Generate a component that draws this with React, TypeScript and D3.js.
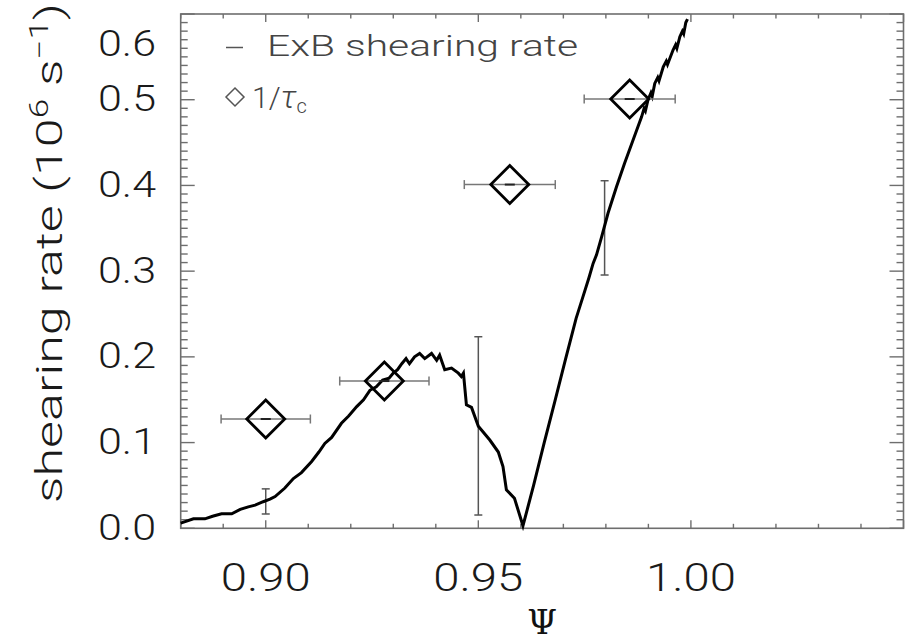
import React from "react";
import * as d3 from "d3";

// ExB shearing rate curve (Psi, 10^6 s^-1)
const curvePsi = [
  0.8800, 0.8830, 0.8857, 0.8875, 0.8896, 0.8920, 0.8940, 0.8959, 0.8975, 0.8994,
  0.9010, 0.9022, 0.9045, 0.9065, 0.9084, 0.9108, 0.9125, 0.9139, 0.9155, 0.9178,
  0.9195, 0.9214, 0.9230, 0.9245, 0.9260, 0.9275, 0.9290, 0.9300, 0.9310, 0.9320,
  0.9330, 0.9338, 0.9350, 0.9362, 0.9374, 0.9390, 0.9402, 0.9409, 0.9421, 0.9437,
  0.9453, 0.9460, 0.9465, 0.9472, 0.9484, 0.9500, 0.9527, 0.9547, 0.9558, 0.9566,
  0.9585, 0.9605, 0.9630, 0.9655, 0.9680, 0.9705, 0.9730, 0.9746, 0.9760, 0.9770,
  0.9778, 0.9790, 0.9805, 0.9825, 0.9844, 0.9864, 0.9884, 0.9890, 0.9893, 0.9899,
  0.9906, 0.9909, 0.9915, 0.9922, 0.9925, 0.9935, 0.9942, 0.9945, 0.9958, 0.9964,
  0.9967, 0.9974, 0.9980, 0.9983, 0.9988, 0.9992,
];
const curveRate = [
  0.006, 0.011, 0.011, 0.014, 0.017, 0.017, 0.022, 0.025, 0.027, 0.031,
  0.034, 0.037, 0.047, 0.058, 0.065, 0.078, 0.089, 0.099, 0.106, 0.1225,
  0.131, 0.142, 0.150, 0.161, 0.165, 0.173, 0.175, 0.181, 0.185, 0.192,
  0.198, 0.192, 0.200, 0.204, 0.198, 0.204, 0.196, 0.202, 0.185, 0.187,
  0.181, 0.177, 0.181, 0.144, 0.141, 0.119, 0.103, 0.089, 0.072, 0.045,
  0.035, 0.003, 0.050, 0.100, 0.148, 0.197, 0.245, 0.270, 0.292, 0.309,
  0.319, 0.340, 0.3675, 0.3985, 0.426, 0.453, 0.480, 0.490, 0.487, 0.4997,
  0.508, 0.504, 0.519, 0.526, 0.522, 0.5385, 0.545, 0.541, 0.558, 0.564,
  0.560, 0.5735, 0.580, 0.577, 0.590, 0.594,
];

// Error bars on the ExB curve
const curveErrPsi = [0.900, 0.950, 0.9797];
const curveErrLow = [0.0167, 0.0155, 0.2955];
const curveErrHigh = [0.046, 0.2235, 0.4055];

// 1/tau_c points (diamonds) with horizontal error
const tauPsi = [0.9000, 0.9279, 0.9574, 0.9856];
const tauRate = [0.1275, 0.1718, 0.401, 0.5008];
const tauPsiErr = [0.0105, 0.0105, 0.0107, 0.0107];

const xMajorTicks = [0.9, 0.95, 1.0];
const xTickLabels = ["0.90", "0.95", "1.00"];
const yMajorTicks = [0, 0.1, 0.2, 0.3, 0.4, 0.5, 0.6];
const yTickLabels = ["0.0", "0.1", "0.2", "0.3", "0.4", "0.5", "0.6"];

const W = 905;
const H = 644;
const L = 180.7, R = 903.5, T = 14, B = 528.3;
const FONT = "Roboto, 'Open Sans', 'Liberation Sans', sans-serif";
const FW = 300;
const AXIS = "#6e6e6e";

export default function App() {
  const x = d3.scaleLinear().domain([0.88, 1.05]).range([L, R]);
  const y = d3.scaleLinear().domain([0, 0.6]).range([B, T]);

  const pts: [number, number][] = curvePsi.map((p, i) => [p, curveRate[i]]);
  const line = d3
    .line<[number, number]>()
    .x((d) => x(d[0]))
    .y((d) => y(d[1]));

  const xMinor = d3.range(0.88, 1.0501, 0.01).map((v) => +v.toFixed(3));
  const yMinor = d3.range(0, 0.6001, 0.01).map((v) => +v.toFixed(3));
  const isMajorX = (v: number) => xMajorTicks.some((m) => Math.abs(m - v) < 1e-6) || Math.abs(v - 1.05) < 1e-6;
  const isMajorY = (v: number) => yMajorTicks.some((m) => Math.abs(m - v) < 1e-6);

  const diamond = (cx: number, cy: number, r: number) =>
    `M${cx},${cy - r}L${cx + r},${cy}L${cx},${cy + r}L${cx - r},${cy}Z`;

  return (
    <svg
      width={W}
      height={H}
      style={{ position: "absolute", left: 0, top: 0, background: "#fff" }}
    >
      <rect x={0} y={0} width={W} height={H} fill="#fff" />

      {/* frame */}
      <rect x={L} y={T} width={R - L} height={B - T} fill="none" stroke={AXIS} strokeWidth={1.6} />

      {/* x ticks (bottom & top) */}
      {xMinor.map((v, i) => {
        const len = isMajorX(v) ? 8 : 4.5;
        const px = x(v);
        return (
          <g key={"xt" + i}>
            <line x1={px} x2={px} y1={B} y2={B - len} stroke={AXIS} strokeWidth={1.4} />
            <line x1={px} x2={px} y1={T} y2={T + len} stroke={AXIS} strokeWidth={1.4} />
          </g>
        );
      })}
      {/* y ticks (left & right) */}
      {yMinor.map((v, i) => {
        const len = isMajorY(v) ? 14 : 7;
        const py = y(v);
        return (
          <g key={"yt" + i}>
            <line x1={L} x2={L + len} y1={py} y2={py} stroke={AXIS} strokeWidth={1.4} />
            <line x1={R} x2={R - len} y1={py} y2={py} stroke={AXIS} strokeWidth={1.4} />
          </g>
        );
      })}

      {/* y tick labels */}
      {yMajorTicks.map((v, i) => {
        const c = Math.max(y(v) - 2, 42);
        return (
          <text
            key={"yl" + i}
            x={156}
            y={c + 13.5}
            textAnchor="end"
            fontFamily={FONT}
            fontWeight={FW}
            fontSize={37}
            fill="#1a1a1a"
            textLength={58}
            lengthAdjust="spacingAndGlyphs"
          >
            {yTickLabels[i]}
          </text>
        );
      })}

      {/* x tick labels */}
      {xMajorTicks.map((v, i) => (
        <text
          key={"xl" + i}
          x={x(v) - 45}
          y={591}
          fontFamily={FONT}
          fontWeight={FW}
          fontSize={38}
          fill="#1a1a1a"
          textLength={90}
          lengthAdjust="spacingAndGlyphs"
        >
          {xTickLabels[i]}
        </text>
      ))}

      {/* axis titles */}
      <text
        x={(L + R) / 2}
        y={634}
        textAnchor="middle"
        fontFamily="'DejaVu Serif', 'Liberation Serif', serif"
        fontSize={34}
        fill="#111"
      >
        Ψ
      </text>
      <text
        transform={`translate(62,253) rotate(-90)`}
        textAnchor="middle"
        fontFamily={FONT}
        fontWeight={FW}
        fontSize={37}
        fill="#1a1a1a"
        textLength={500}
        lengthAdjust="spacingAndGlyphs"
      >
        shearing rate (10
        <tspan dy={-14} fontSize={25}>6</tspan>
        <tspan dy={14}> s</tspan>
        <tspan dy={-14} fontSize={25}>−1</tspan>
        <tspan dy={14}>)</tspan>
      </text>

      {/* legend */}
      <line x1={226} x2={243} y1={47.5} y2={47.5} stroke="#555" strokeWidth={1.5} />
      <text x={267} y={56} fontFamily={FONT} fontWeight={FW} fontSize={30} fill="#444" textLength={311} lengthAdjust="spacingAndGlyphs">
        ExB shearing rate
      </text>
      <path d={diamond(235, 97, 9)} fill="none" stroke="#555" strokeWidth={1.5} />
      <text x={252} y={108} fontFamily={FONT} fontWeight={FW} fontSize={30} fill="#444">
        1/<tspan fontStyle="italic" fontSize={32}>τ</tspan>
        <tspan dy={5} fontSize={20}>c</tspan>
      </text>

      {/* curve error bars */}
      {curveErrPsi.map((p, i) => {
        const px = x(p);
        const y1 = y(curveErrLow[i]);
        const y2 = y(curveErrHigh[i]);
        return (
          <g key={"ce" + i} stroke="#555" strokeWidth={1.5}>
            <line x1={px} x2={px} y1={y1} y2={y2} />
            <line x1={px - 4} x2={px + 4} y1={y1} y2={y1} />
            <line x1={px - 4} x2={px + 4} y1={y2} y2={y2} />
          </g>
        );
      })}

      {/* ExB curve */}
      <path d={line(pts) || ""} fill="none" stroke="#000" strokeWidth={3} strokeLinejoin="miter" />

      {/* tau points */}
      {tauPsi.map((p, i) => {
        const cx = x(p);
        const cy = y(tauRate[i]);
        const x1 = x(p - tauPsiErr[i]);
        const x2 = x(p + tauPsiErr[i]);
        return (
          <g key={"tp" + i}>
            <g stroke="#777" strokeWidth={1.5}>
              <line x1={x1} x2={x2} y1={cy} y2={cy} />
              <line x1={x1} x2={x1} y1={cy - 4.5} y2={cy + 4.5} />
              <line x1={x2} x2={x2} y1={cy - 4.5} y2={cy + 4.5} />
            </g>
            <line x1={cx - 5} x2={cx + 5} y1={cy} y2={cy} stroke="#222" strokeWidth={2} />
            <path d={diamond(cx, cy, 19)} fill="none" stroke="#000" strokeWidth={2.8} />
          </g>
        );
      })}
    </svg>
  );
}
